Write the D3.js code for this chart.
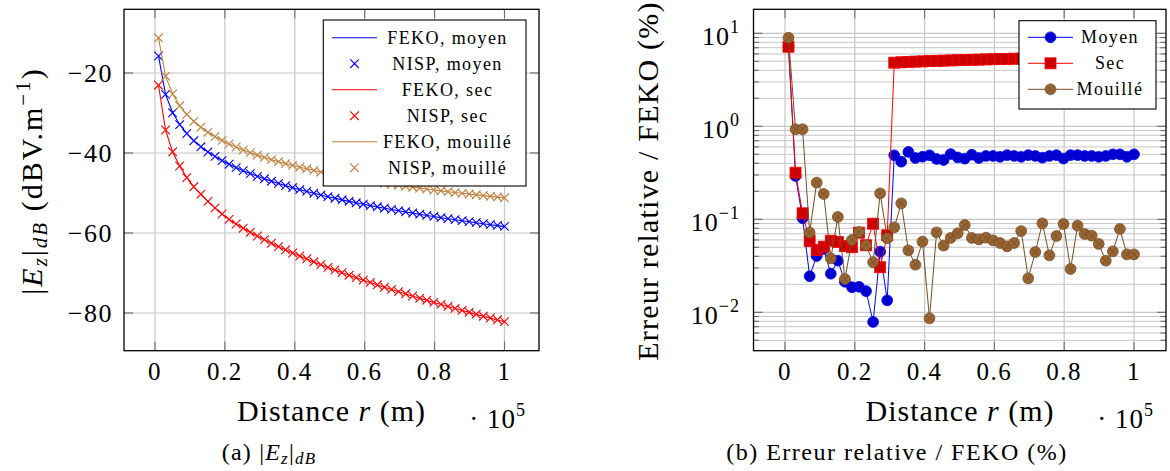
<!DOCTYPE html>
<html><head><meta charset="utf-8">
<script src="https://cdn.jsdelivr.net/npm/d3@7"></script>
<style>
html,body{margin:0;padding:0;background:#fff;}
svg{display:block;font-family:"Liberation Serif","Times New Roman",serif;}
</style></head><body>
<svg id="chart" width="1170" height="471"></svg>
<script>
// ---------------- DATA ----------------
const distance = [1000,3020,5041,7061,9082,11102,13122,15143,17163,19184,21204,23224,25245,27265,29286,31306,33327,35347,37367,39388,41408,43429,45449,47469,49490,51510,53531,55551,57571,59592,61612,63633,65653,67673,69694,71714,73735,75755,77776,79796,81816,83837,85857,87878,89898,91918,93939,95959,97980,100000];

const fekoMoyen = [-15.73,-25.38,-29.89,-32.87,-35.11,-36.91,-38.41,-39.71,-40.85,-41.88,-42.80,-43.65,-44.42,-45.15,-45.82,-46.46,-47.05,-47.62,-48.16,-48.67,-49.16,-49.62,-50.08,-50.51,-50.93,-51.33,-51.72,-52.09,-52.45,-52.81,-53.15,-53.49,-53.81,-54.14,-54.44,-54.75,-55.04,-55.33,-55.61,-55.89,-56.17,-56.43,-56.69,-56.95,-57.20,-57.45,-57.70,-57.93,-58.16,-58.40];
const fekoSec = [-23.00,-34.30,-39.75,-43.28,-46.16,-48.46,-50.31,-52.10,-53.74,-55.26,-56.61,-57.75,-58.81,-59.81,-60.77,-61.69,-62.56,-63.41,-64.22,-65.01,-65.77,-66.50,-67.23,-67.93,-68.61,-69.28,-69.92,-70.56,-71.18,-71.80,-72.40,-72.98,-73.56,-74.14,-74.69,-75.24,-75.79,-76.33,-76.84,-77.37,-77.88,-78.38,-78.88,-79.38,-79.85,-80.34,-80.81,-81.28,-81.74,-82.20];
const fekoMouille = [-11.20,-20.80,-25.25,-28.18,-30.36,-32.11,-33.56,-34.80,-35.89,-36.86,-37.73,-38.52,-39.24,-39.91,-40.53,-41.11,-41.65,-42.17,-42.65,-43.11,-43.54,-43.95,-44.35,-44.73,-45.09,-45.44,-45.77,-46.09,-46.40,-46.70,-46.99,-47.27,-47.54,-47.81,-48.06,-48.31,-48.55,-48.79,-49.01,-49.24,-49.46,-49.67,-49.87,-50.08,-50.27,-50.47,-50.66,-50.84,-51.02,-51.20];
// NISP values (they sit on the FEKO curves)
const nispMoyen = [-15.75,-25.35,-29.95,-32.90,-35.15,-36.95,-38.45,-39.75,-40.85,-41.90,-42.80,-43.65,-44.40,-45.15,-45.85,-46.45,-47.05,-47.60,-48.15,-48.65,-49.15,-49.60,-50.05,-50.50,-50.90,-51.30,-51.70,-52.05,-52.45,-52.80,-53.15,-53.45,-53.80,-54.10,-54.40,-54.70,-55.00,-55.30,-55.60,-55.85,-56.15,-56.40,-56.65,-56.90,-57.15,-57.40,-57.65,-57.90,-58.10,-58.35];
const nispSec = [-23.05,-34.25,-39.70,-43.25,-46.15,-48.45,-50.30,-52.10,-53.75,-55.25,-56.60,-57.75,-58.80,-59.80,-60.75,-61.65,-62.55,-63.40,-64.20,-65.00,-65.75,-66.45,-67.20,-67.90,-68.60,-69.25,-69.90,-70.55,-71.15,-71.75,-72.35,-72.95,-73.55,-74.10,-74.65,-75.20,-75.75,-76.30,-76.80,-77.35,-77.85,-78.35,-78.85,-79.35,-79.80,-80.30,-80.80,-81.25,-81.70,-82.15];
const nispMouille = [-11.20,-20.80,-25.25,-28.20,-30.35,-32.10,-33.55,-34.80,-35.90,-36.85,-37.75,-38.50,-39.25,-39.90,-40.55,-41.10,-41.65,-42.15,-42.65,-43.10,-43.55,-43.95,-44.35,-44.75,-45.10,-45.45,-45.75,-46.10,-46.40,-46.70,-47.00,-47.25,-47.55,-47.80,-48.05,-48.30,-48.55,-48.80,-49.00,-49.25,-49.45,-49.65,-49.90,-50.10,-50.25,-50.45,-50.65,-50.85,-51.00,-51.20];

const errMoyen = [7.2,0.292,0.1026,0.0244,0.0403,0.048,0.026,0.0359,0.0213,0.0186,0.0188,0.0169,0.00787,0.0449,0.01345,0.488,0.416,0.53,0.456,0.471,0.488,0.445,0.434,0.503,0.463,0.449,0.495,0.456,0.48,0.48,0.47,0.49,0.48,0.47,0.49,0.48,0.46,0.48,0.49,0.45,0.49,0.49,0.48,0.48,0.47,0.48,0.50,0.50,0.47,0.50];
const errSec = [7.17,0.317,0.116,0.0585,0.0468,0.0507,0.0589,0.0570,0.0516,0.0500,0.0718,0.0525,0.0897,0.0305,0.0673,4.83,4.88,4.92,4.96,4.99,5.02,5.05,5.08,5.11,5.14,5.16,5.19,5.21,5.24,5.26,5.28,5.31,5.33,5.35,5.37,5.39,5.41,5.43,5.45,5.47,5.49,5.51,5.53,5.55,5.57,5.59,5.60,5.62,5.64,5.66];
const errMouille = [8.97,0.929,0.929,0.0718,0.248,0.187,0.0380,0.106,0.0228,0.0599,0.0730,0.0525,0.0345,0.190,0.0624,0.0820,0.1485,0.0464,0.0325,0.0575,0.00861,0.0724,0.0521,0.0630,0.0707,0.0868,0.0630,0.0609,0.0635,0.0594,0.0556,0.0512,0.0556,0.0748,0.0232,0.0445,0.0905,0.0410,0.0661,0.0890,0.0292,0.0854,0.0695,0.0667,0.0543,0.0359,0.0452,0.0787,0.0420,0.0420];

const xTickValues = [0,20000,40000,60000,80000,100000];
const xTickLabels = ["0","0.2","0.4","0.6","0.8","1"];
const yTickValuesLeft = [-20,-40,-60,-80];
const yTickLabelsLeft = ["\u221220","\u221240","\u221260","\u221280"];
const yTickValuesRight = [0.01,0.1,1,10];
const yTickExpRight = ["\u22122","\u22121","0","1"];
const legendLeft = ["FEKO, moyen","NISP, moyen","FEKO, sec","NISP, sec","FEKO, mouillé","NISP, mouillé"];
const legendRight = ["Moyen","Sec","Mouillé"];

// ---------------- DRAWING ----------------
const svg = d3.select("#chart");
const GRID = "#c6c6c6", TICK = "#6b6b6b";
const TICKFS = 25, TICKLS = 1.5;

function frame(g, box, xs, ys, yTicks, minorY) {
  g.append("g").selectAll("line").data(xTickValues).join("line")
    .attr("x1", d => xs(d)).attr("x2", d => xs(d)).attr("y1", box.top).attr("y2", box.bottom)
    .attr("stroke", GRID).attr("stroke-width", 1.2);
  if (minorY) {
    g.append("g").selectAll("line").data(minorY).join("line")
      .attr("x1", box.left).attr("x2", box.right).attr("y1", d => ys(d)).attr("y2", d => ys(d))
      .attr("stroke", GRID).attr("stroke-width", 1);
  }
  g.append("g").selectAll("line").data(yTicks).join("line")
    .attr("x1", box.left).attr("x2", box.right).attr("y1", d => ys(d)).attr("y2", d => ys(d))
    .attr("stroke", GRID).attr("stroke-width", 1.2);
  const tk = g.append("g").attr("stroke", TICK).attr("stroke-width", 1.1);
  xTickValues.forEach(v => {
    tk.append("line").attr("x1", xs(v)).attr("x2", xs(v)).attr("y1", box.bottom).attr("y2", box.bottom - 9);
    tk.append("line").attr("x1", xs(v)).attr("x2", xs(v)).attr("y1", box.top).attr("y2", box.top + 9);
  });
  yTicks.forEach(v => {
    tk.append("line").attr("x1", box.left).attr("x2", box.left + 9).attr("y1", ys(v)).attr("y2", ys(v));
    tk.append("line").attr("x1", box.right).attr("x2", box.right - 9).attr("y1", ys(v)).attr("y2", ys(v));
  });
  if (minorY) {
    minorY.forEach(v => {
      tk.append("line").attr("x1", box.left).attr("x2", box.left + 5.5).attr("y1", ys(v)).attr("y2", ys(v));
      tk.append("line").attr("x1", box.right).attr("x2", box.right - 5.5).attr("y1", ys(v)).attr("y2", ys(v));
    });
  }
  g.append("g").selectAll("text").data(xTickValues).join("text")
    .attr("x", d => xs(d)).attr("y", 379.5).attr("text-anchor", "middle")
    .attr("font-size", TICKFS).attr("letter-spacing", TICKLS).text((d, i) => xTickLabels[i]);
}

function xLabel(g, cx, endX) {
  const t = g.append("text").attr("x", cx).attr("y", 421).attr("text-anchor", "middle")
    .attr("font-size", 30).attr("letter-spacing", 1);
  t.append("tspan").text("Distance ");
  t.append("tspan").attr("font-style", "italic").text("r");
  t.append("tspan").text(" (m)");
  const s = g.append("text").attr("x", endX).attr("y", 427.5).attr("text-anchor", "end")
    .attr("font-size", TICKFS + 2).attr("letter-spacing", 1);
  s.append("tspan").text("\u00b7 10");
  s.append("tspan").attr("font-size", 18).attr("dy", -12).text("5");
}

function box(g, b) {
  g.append("rect").attr("x", b.left).attr("y", b.top).attr("width", b.right - b.left).attr("height", b.bottom - b.top)
    .attr("fill", "none").attr("stroke", "#000").attr("stroke-width", 1.3);
}

// ===== Left panel =====
const gL = svg.append("g");
const bL = {left: 124, right: 539, top: 9.3, bottom: 350.7};
const xL = d3.scaleLinear().domain([0, 100000]).range([155, 504.5]);
const yL = d3.scaleLinear().domain([-20, -80]).range([73, 313]);
frame(gL, bL, xL, yL, yTickValuesLeft, null);
gL.append("g").selectAll("text").data(yTickValuesLeft).join("text")
  .attr("x", 113).attr("y", d => yL(d) + 8.5).attr("text-anchor", "end")
  .attr("font-size", TICKFS + 1).attr("letter-spacing", TICKLS)
  .text((d, i) => yTickLabelsLeft[i]);

const crossPath = "M-4.3,-4.3L4.3,4.3M-4.3,4.3L4.3,-4.3";
const leftSeries = [
  {vals: fekoMoyen, color: "#0000ff", kind: "line"},
  {vals: nispMoyen, color: "#0000ff", kind: "mark"},
  {vals: fekoSec, color: "#ff0000", kind: "line"},
  {vals: nispSec, color: "#ff0000", kind: "mark"},
  {vals: fekoMouille, color: "#bf8040", kind: "line"},
  {vals: nispMouille, color: "#bf8040", kind: "mark"}
];
leftSeries.forEach(s => {
  if (s.kind === "line") {
    gL.append("path").attr("d", d3.line().x((d, i) => xL(distance[i])).y(d => yL(d))(s.vals))
      .attr("fill", "none").attr("stroke", s.color).attr("stroke-width", 1.1);
  } else {
    gL.append("g").selectAll("path").data(s.vals).join("path")
      .attr("transform", (d, i) => `translate(${xL(distance[i])},${yL(d)})`)
      .attr("d", crossPath).attr("fill", "none").attr("stroke", s.color).attr("stroke-width", 1.1);
  }
});
box(gL, bL);

// legend left
const lgL = gL.append("g");
lgL.append("rect").attr("x", 323.3).attr("y", 20).attr("width", 202.7).attr("height", 166)
  .attr("fill", "#fff").attr("stroke", "#000").attr("stroke-width", 1.1);
leftSeries.forEach((s, k) => {
  const y = 37.7 + 26 * k;
  if (s.kind === "line") {
    lgL.append("line").attr("x1", 332).attr("x2", 377).attr("y1", y).attr("y2", y)
      .attr("stroke", s.color).attr("stroke-width", 1.1);
  } else {
    lgL.append("path").attr("transform", `translate(354.5,${y})`).attr("d", crossPath)
      .attr("fill", "none").attr("stroke", s.color).attr("stroke-width", 1.1);
  }
  lgL.append("text").attr("x", 447.5).attr("y", y + 6).attr("text-anchor", "middle")
    .attr("font-size", 18).attr("letter-spacing", 1.4).text(legendLeft[k]);
});

// y label left
const ylL = gL.append("text").attr("transform", "translate(42,181) rotate(-90)")
  .attr("text-anchor", "middle").attr("font-size", 30).attr("letter-spacing", 2);
ylL.append("tspan").text("|");
ylL.append("tspan").attr("font-style", "italic").text("E");
ylL.append("tspan").attr("font-style", "italic").attr("font-size", 21).attr("dy", 5).text("z");
ylL.append("tspan").attr("dy", -5).text("|");
ylL.append("tspan").attr("font-style", "italic").attr("font-size", 21).attr("dy", 5).text("dB");
ylL.append("tspan").attr("dy", -5).text("  (dBV.m");
ylL.append("tspan").attr("font-size", 21).attr("dy", -12).text("\u22121");
ylL.append("tspan").attr("dy", 12).text(")");

xLabel(gL, 331.5, 526);

// caption a
const capA = gL.append("text").attr("x", 269).attr("y", 459.5).attr("text-anchor", "middle")
  .attr("font-size", 24).attr("letter-spacing", 1.2);
capA.append("tspan").text("(a) |");
capA.append("tspan").attr("font-style", "italic").text("E");
capA.append("tspan").attr("font-style", "italic").attr("font-size", 17).attr("dy", 4).text("z");
capA.append("tspan").attr("dy", -4).text("|");
capA.append("tspan").attr("font-style", "italic").attr("font-size", 17).attr("dy", 4).text("dB");

// ===== Right panel =====
const gR = svg.append("g");
const bR = {left: 753.5, right: 1166, top: 9.3, bottom: 350.7};
const xR = d3.scaleLinear().domain([0, 100000]).range([785, 1134]);
const yR = d3.scaleLog().domain([10, 0.01]).range([33.3, 312.3]);
const minorR = [];
[0.001, 0.01, 0.1, 1].forEach(dec => { for (let m = 2; m <= 9; m++) minorR.push(dec * m); });
const minorIn = minorR.filter(v => yR(v) > bR.top + 2 && yR(v) < bR.bottom - 2);
frame(gR, bR, xR, yR, yTickValuesRight, minorIn);
const ytR = gR.append("g").selectAll("text").data(yTickValuesRight).join("text")
  .attr("x", 740).attr("y", d => yR(d) + 12).attr("text-anchor", "end")
  .attr("font-size", TICKFS + 1).attr("letter-spacing", 1);
ytR.append("tspan").text("10");
ytR.append("tspan").attr("font-size", 18).attr("dy", -12).text((d, i) => yTickExpRight[i]);

const rightSeries = [
  {vals: errMoyen, color: "#0000ff", fill: "#0000cc", mark: "circle"},
  {vals: errSec, color: "#ff0000", fill: "#cc0000", mark: "square"},
  {vals: errMouille, color: "#734d26", fill: "#996633", mark: "otimes"}
];
function drawMark(g, x, y, s) {
  if (s.mark === "square") {
    g.append("rect").attr("x", x - 5.5).attr("y", y - 5.5).attr("width", 11).attr("height", 11)
      .attr("fill", s.fill).attr("stroke", s.color).attr("stroke-width", 0.8);
  } else {
    g.append("circle").attr("cx", x).attr("cy", y).attr("r", 5.4)
      .attr("fill", s.fill).attr("stroke", s.color).attr("stroke-width", 0.8);
    if (s.mark === "otimes") {
      const r = 3.8;
      g.append("path").attr("d", `M${x - r},${y - r}L${x + r},${y + r}M${x - r},${y + r}L${x + r},${y - r}`)
        .attr("stroke", s.color).attr("stroke-width", 0.8);
    }
  }
}
rightSeries.forEach(s => {
  gR.append("path").attr("d", d3.line().x((d, i) => xR(distance[i])).y(d => yR(d))(s.vals))
    .attr("fill", "none").attr("stroke", s.color).attr("stroke-width", 1);
  const mg = gR.append("g");
  s.vals.forEach((v, i) => drawMark(mg, xR(distance[i]), yR(v), s));
});
box(gR, bR);

// legend right
const lgR = gR.append("g");
lgR.append("rect").attr("x", 1019).attr("y", 20.7).attr("width", 137).attr("height", 88.3)
  .attr("fill", "#fff").attr("stroke", "#000").attr("stroke-width", 1.1);
rightSeries.forEach((s, k) => {
  const y = 37.3 + 26 * k;
  lgR.append("line").attr("x1", 1028).attr("x2", 1073).attr("y1", y).attr("y2", y)
    .attr("stroke", s.color).attr("stroke-width", 1);
  drawMark(lgR, 1050.5, y, s);
  lgR.append("text").attr("x", 1110).attr("y", y + 6).attr("text-anchor", "middle")
    .attr("font-size", 18).attr("letter-spacing", 1.4).text(legendRight[k]);
});

// y label right
gR.append("text").attr("transform", "translate(658,181) rotate(-90)")
  .attr("text-anchor", "middle").attr("font-size", 30).attr("letter-spacing", 1.2)
  .text("Erreur relative / FEKO (%)");

xLabel(gR, 960, 1154);

gR.append("text").attr("x", 897).attr("y", 459.5).attr("text-anchor", "middle")
  .attr("font-size", 24).attr("letter-spacing", 1.5)
  .text("(b) Erreur relative / FEKO (%)");
</script>
</body></html>
